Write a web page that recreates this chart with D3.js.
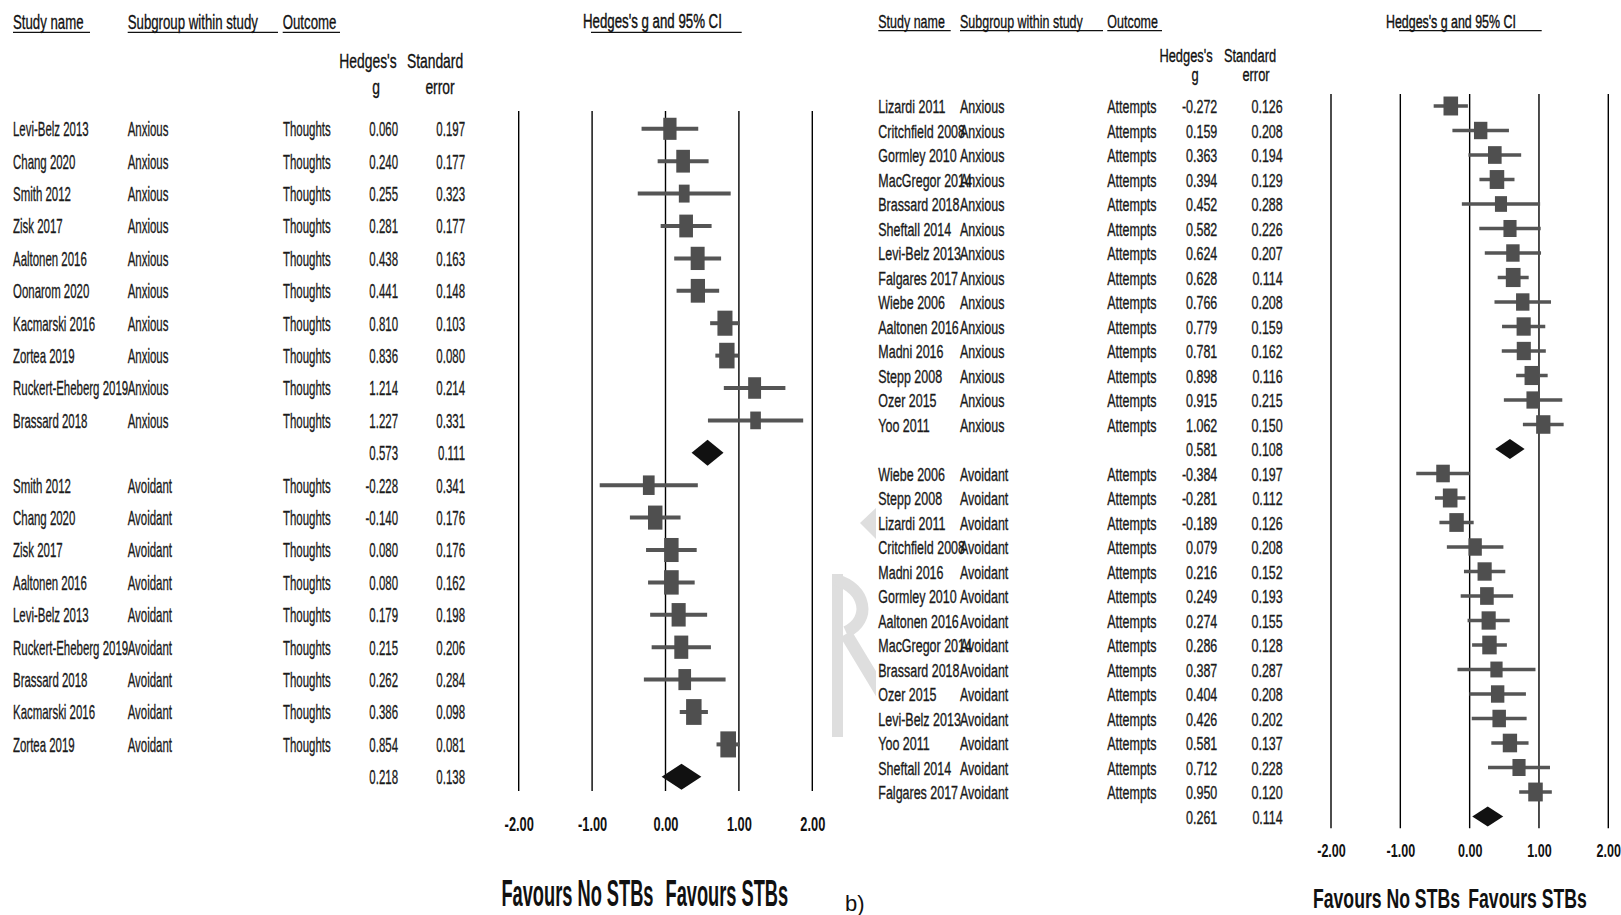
<!DOCTYPE html>
<html>
<head>
<meta charset="utf-8">
<script src="https://cdn.jsdelivr.net/npm/d3@7"></script>
<style>
  html, body { margin: 0; padding: 0; background: #fff; }
  svg { display: block; }
</style>
</head>
<body>
<svg id="chart" width="1621" height="915"></svg>
<script>
// ---------------- data ----------------
// Suicidal thoughts, anxious attachment
const thoughtsAnxiousStudies = ["Levi-Belz 2013", "Chang 2020", "Smith 2012", "Zisk 2017", "Aaltonen 2016",
  "Oonarom 2020", "Kacmarski 2016", "Zortea 2019", "Ruckert-Eheberg 2019", "Brassard 2018"];
const thoughtsAnxiousG  = [0.060, 0.240, 0.255, 0.281, 0.438, 0.441, 0.810, 0.836, 1.214, 1.227];
const thoughtsAnxiousSE = [0.197, 0.177, 0.323, 0.177, 0.163, 0.148, 0.103, 0.080, 0.214, 0.331];
const thoughtsAnxiousPooled = [0.573, 0.111];

// Suicidal thoughts, avoidant attachment
const thoughtsAvoidantStudies = ["Smith 2012", "Chang 2020", "Zisk 2017", "Aaltonen 2016", "Levi-Belz 2013",
  "Ruckert-Eheberg 2019", "Brassard 2018", "Kacmarski 2016", "Zortea 2019"];
const thoughtsAvoidantG  = [-0.228, -0.140, 0.080, 0.080, 0.179, 0.215, 0.262, 0.386, 0.854];
const thoughtsAvoidantSE = [0.341, 0.176, 0.176, 0.162, 0.198, 0.206, 0.284, 0.098, 0.081];
const thoughtsAvoidantPooled = [0.218, 0.138];

// Suicide attempts, anxious attachment
const attemptsAnxiousStudies = ["Lizardi 2011", "Critchfield 2008", "Gormley 2010", "MacGregor 2014", "Brassard 2018",
  "Sheftall 2014", "Levi-Belz 2013", "Falgares 2017", "Wiebe 2006", "Aaltonen 2016", "Madni 2016", "Stepp 2008",
  "Ozer 2015", "Yoo 2011"];
const attemptsAnxiousG  = [-0.272, 0.159, 0.363, 0.394, 0.452, 0.582, 0.624, 0.628, 0.766, 0.779, 0.781, 0.898, 0.915, 1.062];
const attemptsAnxiousSE = [0.126, 0.208, 0.194, 0.129, 0.288, 0.226, 0.207, 0.114, 0.208, 0.159, 0.162, 0.116, 0.215, 0.150];
const attemptsAnxiousPooled = [0.581, 0.108];

// Suicide attempts, avoidant attachment
const attemptsAvoidantStudies = ["Wiebe 2006", "Stepp 2008", "Lizardi 2011", "Critchfield 2008", "Madni 2016",
  "Gormley 2010", "Aaltonen 2016", "MacGregor 2014", "Brassard 2018", "Ozer 2015", "Levi-Belz 2013", "Yoo 2011",
  "Sheftall 2014", "Falgares 2017"];
const attemptsAvoidantG  = [-0.384, -0.281, -0.189, 0.079, 0.216, 0.249, 0.274, 0.286, 0.387, 0.404, 0.426, 0.581, 0.712, 0.950];
const attemptsAvoidantSE = [0.197, 0.112, 0.126, 0.208, 0.152, 0.193, 0.155, 0.128, 0.287, 0.208, 0.202, 0.137, 0.228, 0.120];
const attemptsAvoidantPooled = [0.261, 0.114];

const subgroupNames = ["Anxious", "Avoidant"];
const outcomeNames = ["Thoughts", "Attempts"];
const axisTicks = [-2, -1, 0, 1, 2];
const columnTitles = ["Study name", "Subgroup within study", "Outcome"];
const plotTitle = "Hedges's g and 95% CI";
const favourLabels = ["Favours No STBs", "Favours STBs"];

// ---------------- layout ----------------
const FONT = "'Liberation Sans', Arial, sans-serif";
const svg = d3.select("#chart").attr("font-family", FONT);

const panels = [
  {
    outcome: outcomeNames[0],
    groups: [
      { sub: subgroupNames[0], studies: thoughtsAnxiousStudies, g: thoughtsAnxiousG, se: thoughtsAnxiousSE, pooled: thoughtsAnxiousPooled },
      { sub: subgroupNames[1], studies: thoughtsAvoidantStudies, g: thoughtsAvoidantG, se: thoughtsAvoidantSE, pooled: thoughtsAvoidantPooled }
    ],
    x0: 518.7, x1: 812.3, rowTop: 128.8, rowStep: 32.4, gridTop: 111, gridBottom: 791,
    fs: 21, sx: 0.545, base: 7.4,
    cols: { study: 13, sub: 127.7, outcome: 283, g: 398, se: 465 },
    heads: { base: 29.3, ul: 32.3, sx: 0.63, fs: 21, items: [[13, 90], [127.7, 278], [282.7, 340]] },
    colHeads: { fs: 21, sx: 0.66, b1: 67.6, b2: 94, hx: 368, gx: 376, sxC: 435, ex: 440 },
    title: { x: 583, base: 28, sx: 0.632, fs: 21, ul: 32.3, ul0: 591, ul1: 741.7 },
    ticks: { base: 830.7, fs: 20, sx: 0.64 },
    fav: { base: 906, fs: 36, sx: 0.507, gapL: 12, gapR: 0 },
    box: { c: 70.8, aspect: 0.6 }, ciW: 4, diamondH: 26
  },
  {
    outcome: outcomeNames[1],
    groups: [
      { sub: subgroupNames[0], studies: attemptsAnxiousStudies, g: attemptsAnxiousG, se: attemptsAnxiousSE, pooled: attemptsAnxiousPooled },
      { sub: subgroupNames[1], studies: attemptsAvoidantStudies, g: attemptsAvoidantG, se: attemptsAvoidantSE, pooled: attemptsAvoidantPooled }
    ],
    x0: 1331, x1: 1608.3, rowTop: 106, rowStep: 24.5, gridTop: 94, gridBottom: 828.3,
    fs: 19.2, sx: 0.65, base: 7,
    cols: { study: 878.3, sub: 960, outcome: 1107.3, g: 1217.3, se: 1282.7 },
    heads: { base: 28.3, ul: 30.7, sx: 0.65, fs: 19.2, items: [[878.3, 950.7], [960, 1103], [1107.3, 1162]] },
    colHeads: { fs: 19.2, sx: 0.67, b1: 62, b2: 81, hx: 1186, gx: 1195, sxC: 1250, ex: 1256 },
    title: { x: 1386, base: 28.3, sx: 0.646, fs: 19.2, ul: 30.7, ul0: 1399, ul1: 1541.7 },
    ticks: { base: 857.3, fs: 19, sx: 0.66 },
    fav: { base: 908, fs: 28, sx: 0.63, gapL: 9.7, gapR: -1.4 },
    box: { c: 67.2, aspect: 0.77 }, ciW: 3.5, diamondH: 20
  }
];

// condensed text helper: the glyphs are squeezed horizontally around their anchor
function label(parent, x, y, str, o = {}) {
  const fill = o.fill || "#1a1a1a";
  return parent.append("text")
    .attr("transform", `translate(${x},${y}) scale(${o.sx ?? 1},1)`)
    .attr("text-anchor", o.anchor || "start")
    .attr("font-size", o.fs || 20)
    .attr("font-weight", o.weight || "normal")
    .attr("fill", fill)
    .attr("stroke", o.thick ? fill : "none")
    .attr("stroke-width", o.thick || 0)
    .text(str);
}

// between-study variance that reproduces the reported pooled SE
function solveTau2(se, pooledSe) {
  const target = 1 / (pooledSe * pooledSe);
  const sumW = t => d3.sum(se, s => 1 / (s * s + t));
  if (sumW(0) <= target) return 0;
  let lo = 0, hi = 10;
  for (let i = 0; i < 80; i++) {
    const mid = (lo + hi) / 2;
    if (sumW(mid) > target) lo = mid; else hi = mid;
  }
  return (lo + hi) / 2;
}

// faint grey backdrop glyph between the two panels
const back = svg.append("g");
back.append("clipPath").attr("id", "backClip")
  .append("rect").attr("x", 815).attr("y", 0).attr("width", 61).attr("height", 915);
const bg = back.append("g").attr("clip-path", "url(#backClip)").attr("fill", "#dedede").attr("stroke", "#dedede");
bg.append("path").attr("d", "M860,523 L878,506 L878,541 Z").attr("stroke", "none");
bg.append("path").attr("d", "M832,574 L843,574 L843,737 L832,737 Z").attr("stroke", "none");
bg.append("path").attr("d", "M836,580 C866,588 872,620 846,632").attr("fill", "none").attr("stroke-width", 12);
bg.append("path").attr("d", "M846,634 L884,697").attr("fill", "none").attr("stroke-width", 13);

const fmt3 = v => v.toFixed(3);

panels.forEach(p => {
  const g = svg.append("g");
  const x = d3.scaleLinear().domain([axisTicks[0], axisTicks[axisTicks.length - 1]]).range([p.x0, p.x1]);
  const thick = 0.35;

  // rows: studies of each subgroup followed by its pooled estimate
  const rows = [];
  p.groups.forEach(grp => {
    const tau2 = solveTau2(grp.se, grp.pooled[1]);
    const w = grp.se.map(s => 1 / (s * s + tau2));
    const sw = d3.sum(w);
    grp.studies.forEach((name, i) => rows.push({ kind: "study", name, sub: grp.sub, g: grp.g[i], se: grp.se[i], rel: w[i] / sw }));
    rows.push({ kind: "pooled", g: grp.pooled[0], se: grp.pooled[1] });
  });
  const y = d3.scaleLinear().domain([0, rows.length - 1])
    .range([p.rowTop, p.rowTop + p.rowStep * (rows.length - 1)]);

  // column headings with underlines
  columnTitles.forEach((t, i) => {
    const [hx, ux] = p.heads.items[i];
    label(g, hx, p.heads.base, t, { fs: p.heads.fs, sx: p.heads.sx, fill: "#111", thick });
    g.append("line").attr("x1", hx).attr("x2", ux).attr("y1", p.heads.ul).attr("y2", p.heads.ul)
      .attr("stroke", "#111").attr("stroke-width", 1.2);
  });
  const ch = p.colHeads;
  label(g, ch.hx, ch.b1, "Hedges's", { fs: ch.fs, sx: ch.sx, anchor: "middle", fill: "#111", thick });
  label(g, ch.gx, ch.b2, "g", { fs: ch.fs, sx: ch.sx, anchor: "middle", fill: "#111", thick });
  label(g, ch.sxC, ch.b1, "Standard", { fs: ch.fs, sx: ch.sx, anchor: "middle", fill: "#111", thick });
  label(g, ch.ex, ch.b2, "error", { fs: ch.fs, sx: ch.sx, anchor: "middle", fill: "#111", thick });

  // plot title
  label(g, p.title.x, p.title.base, plotTitle, { fs: p.title.fs, sx: p.title.sx, fill: "#111", thick: 0.45 });
  g.append("line").attr("x1", p.title.ul0).attr("x2", p.title.ul1).attr("y1", p.title.ul).attr("y2", p.title.ul)
    .attr("stroke", "#111").attr("stroke-width", 1.2);

  // vertical reference lines at each tick
  g.append("g").selectAll("line").data(axisTicks).join("line")
    .attr("x1", d => x(d)).attr("x2", d => x(d))
    .attr("y1", p.gridTop).attr("y2", p.gridBottom)
    .attr("stroke", "#000").attr("stroke-width", 1.4);

  // tick labels
  const axis = d3.axisBottom(x).tickValues(axisTicks).tickFormat(d => d.toFixed(2)).tickSize(0).tickPadding(0);
  const ax = g.append("g").attr("transform", `translate(0,${p.ticks.base})`).call(axis);
  ax.attr("font-size", null).attr("font-family", null);
  ax.select(".domain").remove();
  ax.selectAll("text")
    .attr("y", 0).attr("dy", null)
    .attr("transform", `scale(${p.ticks.sx},1)`)
    .attr("font-size", p.ticks.fs).attr("font-weight", "bold").attr("fill", "#111");

  // table text
  const studyRows = rows.map((r, i) => ({ ...r, i }));
  studyRows.forEach(r => {
    const yy = y(r.i) + p.base;
    if (r.kind === "study") {
      label(g, p.cols.study, yy, r.name, { fs: p.fs, sx: p.sx, thick });
      label(g, p.cols.sub, yy, r.sub, { fs: p.fs, sx: p.sx, thick });
      label(g, p.cols.outcome, yy, p.outcome, { fs: p.fs, sx: p.sx, thick });
    }
    label(g, p.cols.g, yy, fmt3(r.g), { fs: p.fs, sx: p.sx, anchor: "end", thick });
    label(g, p.cols.se, yy, fmt3(r.se), { fs: p.fs, sx: p.sx, anchor: "end", thick });
  });

  // confidence intervals
  const studies = studyRows.filter(r => r.kind === "study");
  g.append("g").selectAll("line").data(studies).join("line")
    .attr("x1", d => x(d.g - 1.96 * d.se)).attr("x2", d => x(d.g + 1.96 * d.se))
    .attr("y1", d => y(d.i)).attr("y2", d => y(d.i))
    .attr("stroke", "#555").attr("stroke-width", p.ciW);

  // weighted point estimates
  g.append("g").selectAll("rect").data(studies).join("rect")
    .each(function (d) {
      const h = p.box.c * Math.sqrt(d.rel);
      const w = h * p.box.aspect;
      d3.select(this).attr("x", x(d.g) - w / 2).attr("y", y(d.i) - h / 2).attr("width", w).attr("height", h);
    })
    .attr("fill", "#4f4f4f");

  // pooled estimates
  g.append("g").selectAll("path").data(studyRows.filter(r => r.kind === "pooled")).join("path")
    .attr("d", d => {
      const cy = y(d.i), hh = p.diamondH / 2;
      return `M${x(d.g - 1.96 * d.se)},${cy} L${x(d.g)},${cy - hh} L${x(d.g + 1.96 * d.se)},${cy} L${x(d.g)},${cy + hh} Z`;
    })
    .attr("fill", "#111");

  // direction captions
  label(g, x(0) - p.fav.gapL, p.fav.base, favourLabels[0], { fs: p.fav.fs, sx: p.fav.sx, anchor: "end", weight: "bold", fill: "#111" });
  label(g, x(0) + p.fav.gapR, p.fav.base, favourLabels[1], { fs: p.fav.fs, sx: p.fav.sx, weight: "bold", fill: "#111" });
});

// panel tag
label(svg, 845, 911, "b)", { fs: 22, fill: "#111" });
</script>
</body>
</html>
